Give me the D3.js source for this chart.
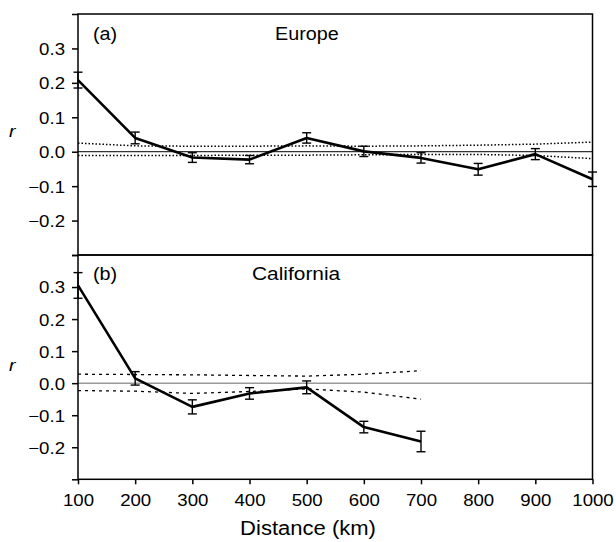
<!DOCTYPE html>
<html>
<head>
<meta charset="utf-8">
<script src="https://cdn.jsdelivr.net/npm/d3@7"></script>
<style>
  html, body { margin: 0; padding: 0; background: #fff; }
  svg { display: block; }
</style>
</head>
<body>
<svg id="chart" width="616" height="542"></svg>
<script>
const distances = [100, 200, 300, 400, 500, 600, 700, 800, 900, 1000]
const xTicks = [100, 200, 300, 400, 500, 600, 700, 800, 900, 1000]
const yTicks = [-0.3, -0.2, -0.1, 0.0, 0.1, 0.2, 0.3, 0.4]
const yLabelled = [-0.2, -0.1, 0.0, 0.1, 0.2, 0.3]

// (a) Europe
const europeMean = [0.208, 0.040, -0.017, -0.023, 0.040, 0.001, -0.018, -0.051, -0.007, -0.080]
const europeErr = [0.023, 0.017, 0.014, 0.012, 0.015, 0.015, 0.015, 0.017, 0.016, 0.021]
const europeUpper = [0.025, 0.017, 0.016, 0.016, 0.017, 0.016, 0.017, 0.019, 0.022, 0.028]
const europeLower = [-0.011, -0.011, -0.011, -0.010, -0.010, -0.009, -0.008, -0.008, -0.011, -0.020]

// (b) California
const californiaDist = [100, 200, 300, 400, 500, 600, 700]
const californiaMean = [0.305, 0.015, -0.074, -0.032, -0.013, -0.137, -0.182]
const californiaErr = [0.040, 0.021, 0.022, 0.018, 0.020, 0.018, 0.032]
const californiaUpper = [0.028, 0.027, 0.026, 0.024, 0.022, 0.028, 0.039]
const californiaLower = [-0.023, -0.025, -0.032, -0.026, -0.018, -0.028, -0.050]

const FONT = 'Liberation Sans, Arial, Helvetica, sans-serif'
const SX = 1.13 // reference text is a bit wider than Arial

const svg = d3.select('#chart')

const x = d3.scaleLinear().domain([100, 1000]).range([78, 592.5])

const panels = [
  {
    tag: '(a)', name: 'Europe', top: 14, bottom: 255,
    dist: distances, mean: europeMean, err: europeErr,
    upper: europeUpper, lower: europeLower,
    zeroColor: '#000', zeroWidth: 1, envDash: '1.5,2', envWidth: 1.5,
    nameX: 275, nameSize: 17.5, baseline: 40
  },
  {
    tag: '(b)', name: 'California', top: 255, bottom: 479.3,
    dist: californiaDist, mean: californiaMean, err: californiaErr,
    upper: californiaUpper, lower: californiaLower,
    zeroColor: '#999', zeroWidth: 1.5, envDash: '3,4', envWidth: 1.3,
    nameX: 252, nameSize: 18.5, baseline: 280
  }
]

panels.forEach((p, pi) => {
  const y = d3.scaleLinear().domain([-0.3, 0.4]).range([p.bottom, p.top])
  const g = svg.append('g')

  // zero line
  g.append('line')
    .attr('x1', x(100)).attr('x2', x(1000))
    .attr('y1', y(0)).attr('y2', y(0))
    .attr('stroke', p.zeroColor)
    .attr('stroke-width', p.zeroWidth)

  // envelopes
  const env = d3.line().x((d, i) => x(p.dist[i])).y((d) => y(d))
  ;[p.upper, p.lower].forEach((arr) => {
    g.append('path')
      .attr('d', env(arr))
      .attr('fill', 'none')
      .attr('stroke', '#000')
      .attr('stroke-width', p.envWidth)
      .attr('stroke-dasharray', p.envDash)
  })

  // mean line
  const line = d3.line().x((d, i) => x(p.dist[i])).y((d) => y(d))
  g.append('path')
    .attr('d', line(p.mean))
    .attr('fill', 'none')
    .attr('stroke', '#000')
    .attr('stroke-width', 2.6)
    .attr('stroke-linejoin', 'round')

  // error bars
  const bars = g.selectAll('g.err')
    .data(p.mean.map((m, i) => ({ d: p.dist[i], m, e: p.err[i] })))
    .join('g')
    .attr('class', 'err')
    .attr('stroke', '#000')
    .attr('stroke-width', 1.4)
  bars.append('line')
    .attr('x1', (d) => x(d.d)).attr('x2', (d) => x(d.d))
    .attr('y1', (d) => y(d.m - d.e)).attr('y2', (d) => y(d.m + d.e))
  bars.append('line')
    .attr('x1', (d) => x(d.d) - 4.5).attr('x2', (d) => x(d.d) + 4.5)
    .attr('y1', (d) => y(d.m + d.e)).attr('y2', (d) => y(d.m + d.e))
  bars.append('line')
    .attr('x1', (d) => x(d.d) - 4.5).attr('x2', (d) => x(d.d) + 4.5)
    .attr('y1', (d) => y(d.m - d.e)).attr('y2', (d) => y(d.m - d.e))

  // frame
  g.append('rect')
    .attr('x', x(100)).attr('y', p.top)
    .attr('width', x(1000) - x(100)).attr('height', p.bottom - p.top)
    .attr('fill', 'none')
    .attr('stroke', '#000')
    .attr('stroke-width', 1.5)

  // y axis
  const ya = g.append('g')
    .attr('transform', `translate(${x(100)},0)`)
    .call(d3.axisLeft(y).tickValues(yTicks).tickSize(6)
      .tickFormat((d) => (yLabelled.some((v) => Math.abs(v - d) < 1e-9) ? d3.format('.1f')(d) : '')))
  ya.select('.domain').remove()
  ya.selectAll('.tick line').attr('stroke-width', 1.5)
  ya.selectAll('.tick text')
    .attr('x', 0).attr('dy', '0.36em')
    .attr('transform', `translate(-13,0) scale(${SX},1)`)
    .attr('font-family', FONT).attr('font-size', 16.5).attr('fill', '#000')

  // panel tag and name
  g.append('text')
    .attr('transform', `translate(93,${p.baseline}) scale(${SX},1)`)
    .attr('font-family', FONT).attr('font-size', 17.5)
    .text(p.tag)
  g.append('text')
    .attr('transform', `translate(${p.nameX},${p.baseline}) scale(${SX},1)`)
    .attr('font-family', FONT).attr('font-size', p.nameSize)
    .text(p.name)

  // y label
  g.append('text')
    .attr('transform', `translate(9,${pi === 0 ? 137 : 371}) scale(${SX},1)`)
    .attr('font-family', FONT).attr('font-size', 17)
    .attr('font-style', 'italic')
    .text('r')

  if (pi === 1) {
    const xa = g.append('g')
      .attr('transform', `translate(0,${p.bottom})`)
      .call(d3.axisBottom(x).tickValues(xTicks).tickSize(5).tickFormat(d3.format('d')))
    xa.select('.domain').remove()
    xa.selectAll('.tick line').attr('stroke-width', 1.5)
    xa.selectAll('.tick text')
      .attr('y', 0).attr('dy', 0)
      .attr('transform', `translate(0,27) scale(${SX},1)`)
      .attr('font-family', FONT).attr('font-size', 16.5).attr('fill', '#000')
  }
})

svg.append('text')
  .attr('transform', `translate(308,535) scale(${SX},1)`)
  .attr('text-anchor', 'middle')
  .attr('font-family', FONT).attr('font-size', 19.5)
  .text('Distance (km)')
</script>
</body>
</html>
